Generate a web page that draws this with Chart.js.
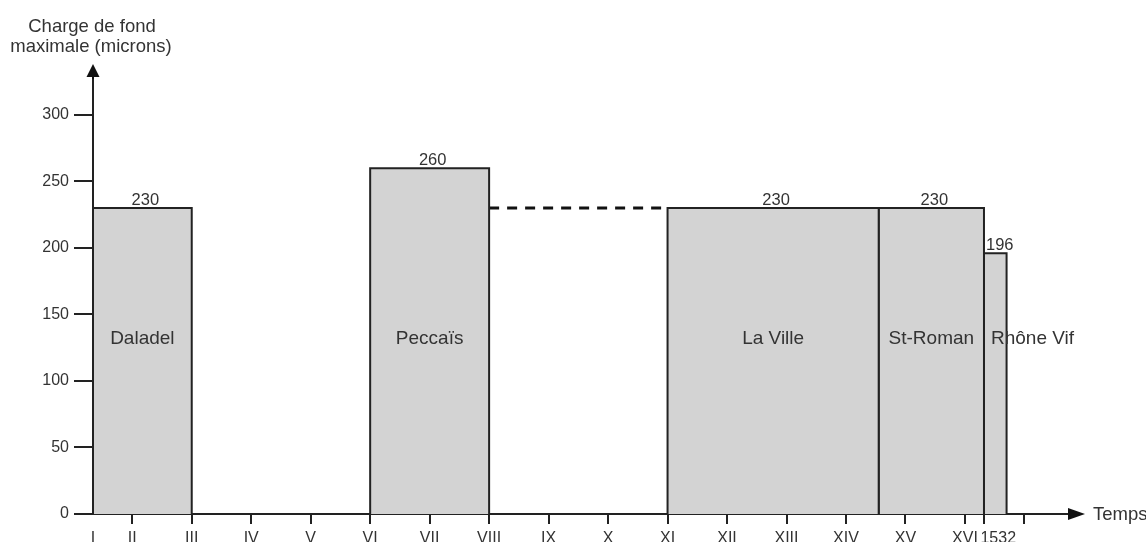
<!DOCTYPE html>
<html>
<head>
<meta charset="utf-8">
<script src="https://cdn.jsdelivr.net/npm/chart.js@4.4.1/dist/chart.umd.min.js"></script>
<style>
  html, body { margin: 0; padding: 0; background: #fff; }
  #wrap { width: 1146px; height: 542px; }
</style>
</head>
<body>
<div id="wrap"><canvas id="chart"></canvas></div>
<script>
// periods (x in centuries, I..XVI, 1532)
const periods = ["Daladel", "Peccaïs", "La Ville", "St-Roman", "Rhône Vif"];
const periodStart = [1.34, 6, 11, 14.55, 16.32];
const periodEnd = [3, 8, 14.55, 16.32, 16.7];
const chargeMax = [230, 260, 230, 230, 196];

// dashed link between Peccaïs and La Ville
const gapX = [8, 11];
const gapY = [230, 230];

const xTickValues = [1.34, 2, 3, 4, 5, 6, 7, 8, 9, 10, 11, 12, 13, 14, 15, 16, 16.32, 16.56, 17];
const xTickLabels = ["I", "II", "III", "IV", "V", "VI", "VII", "VIII", "IX", "X", "XI", "XII", "XIII", "XIV", "XV", "XVI", "", "1532", ""];
const yTickValues = [0, 50, 100, 150, 200, 250, 300];

const FONT = '"Liberation Sans", Arial, sans-serif';
const TEXT = "#333";
const INK = "#222";

const datasets = periods.map((name, i) => ({
  label: name,
  data: [
    { x: periodStart[i], y: 0 },
    { x: periodStart[i], y: chargeMax[i] },
    { x: periodEnd[i], y: chargeMax[i] },
    { x: periodEnd[i], y: 0 }
  ],
  borderColor: INK,
  borderWidth: 2,
  backgroundColor: "#d3d3d3",
  fill: "origin",
  pointRadius: 0,
  tension: 0
}));

datasets.push({
  label: "lien",
  data: gapX.map((v, i) => ({ x: v, y: gapY[i] })),
  borderColor: "#111",
  borderWidth: 3,
  borderDash: [10, 8],
  fill: false,
  pointRadius: 0
});

const annotate = {
  id: "annotate",
  afterDraw(chart) {
    const { ctx, chartArea, scales: { x, y } } = chart;
    ctx.save();
    ctx.fillStyle = TEXT;

    // values above each block
    ctx.font = "16.5px " + FONT;
    ctx.textBaseline = "alphabetic";
    periods.forEach((name, i) => {
      const left = x.getPixelForValue(periodStart[i]);
      const right = x.getPixelForValue(periodEnd[i]);
      const top = y.getPixelForValue(chargeMax[i]);
      const narrow = right - left < 40;
      ctx.textAlign = narrow ? "left" : "center";
      ctx.fillText(String(chargeMax[i]), narrow ? left + 2 : (left + right) / 2 + 3, top - 3);
    });

    // names inside blocks
    ctx.font = "19px " + FONT;
    ctx.textBaseline = "middle";
    const ly = y.getPixelForValue(132);
    periods.forEach((name, i) => {
      const left = x.getPixelForValue(periodStart[i]);
      const right = x.getPixelForValue(periodEnd[i]);
      const narrow = right - left < 40;
      ctx.textAlign = narrow ? "left" : "center";
      ctx.fillText(name, narrow ? left + 7 : (left + right) / 2, ly);
    });

    // arrow heads
    ctx.fillStyle = "#111";
    const ax = chartArea.left, by = chartArea.bottom;
    ctx.beginPath();
    ctx.moveTo(ax, chartArea.top - 14);
    ctx.lineTo(ax - 6.5, chartArea.top - 1);
    ctx.lineTo(ax + 6.5, chartArea.top - 1);
    ctx.closePath();
    ctx.fill();
    ctx.fillRect(ax - 1, chartArea.top - 2, 2, 3);

    ctx.beginPath();
    ctx.moveTo(chartArea.right + 13, by);
    ctx.lineTo(chartArea.right - 4, by - 6);
    ctx.lineTo(chartArea.right - 4, by + 6);
    ctx.closePath();
    ctx.fill();

    // axis titles
    ctx.fillStyle = TEXT;
    ctx.font = "18.5px " + FONT;
    ctx.textAlign = "center";
    ctx.textBaseline = "alphabetic";
    ctx.fillText("Charge de fond", 92, 32);
    ctx.fillText("maximale (microns)", 91, 52);
    ctx.textAlign = "left";
    ctx.textBaseline = "middle";
    ctx.fillText("Temps", 1093, by + 1);
    ctx.restore();
  }
};

new Chart(document.getElementById("chart").getContext("2d"), {
  type: "line",
  data: { datasets },
  options: {
    responsive: true,
    maintainAspectRatio: false,
    animation: false,
    layout: { padding: { top: 78, right: 74, left: 0, bottom: 0 } },
    plugins: { legend: { display: false }, tooltip: { enabled: false } },
    scales: {
      x: {
        type: "linear",
        min: 1.34,
        max: 17.8,
        afterBuildTicks: s => { s.ticks = xTickValues.map(v => ({ value: v })); },
        afterFit: s => { s.height = 28; },
        ticks: {
          autoSkip: false,
          maxRotation: 0,
          padding: 5,
          color: TEXT,
          font: { family: FONT, size: 16 },
          callback: (v, i) => xTickLabels[i]
        },
        grid: {
          drawOnChartArea: false,
          tickLength: 10,
          lineWidth: 2,
          color: c => (c.index === 0 || xTickLabels[c.index] === "1532") ? "rgba(0,0,0,0)" : INK
        },
        border: { color: INK, width: 2 }
      },
      y: {
        type: "linear",
        min: 0,
        max: 327.8,
        afterBuildTicks: s => { s.ticks = yTickValues.map(v => ({ value: v })); },
        afterFit: s => { s.width = 93; },
        ticks: {
          padding: 5,
          color: TEXT,
          font: { family: FONT, size: 16 }
        },
        grid: { drawOnChartArea: false, tickLength: 19, lineWidth: 2, color: INK },
        border: { color: INK, width: 2 }
      }
    }
  },
  plugins: [annotate]
});
</script>
</body>
</html>
